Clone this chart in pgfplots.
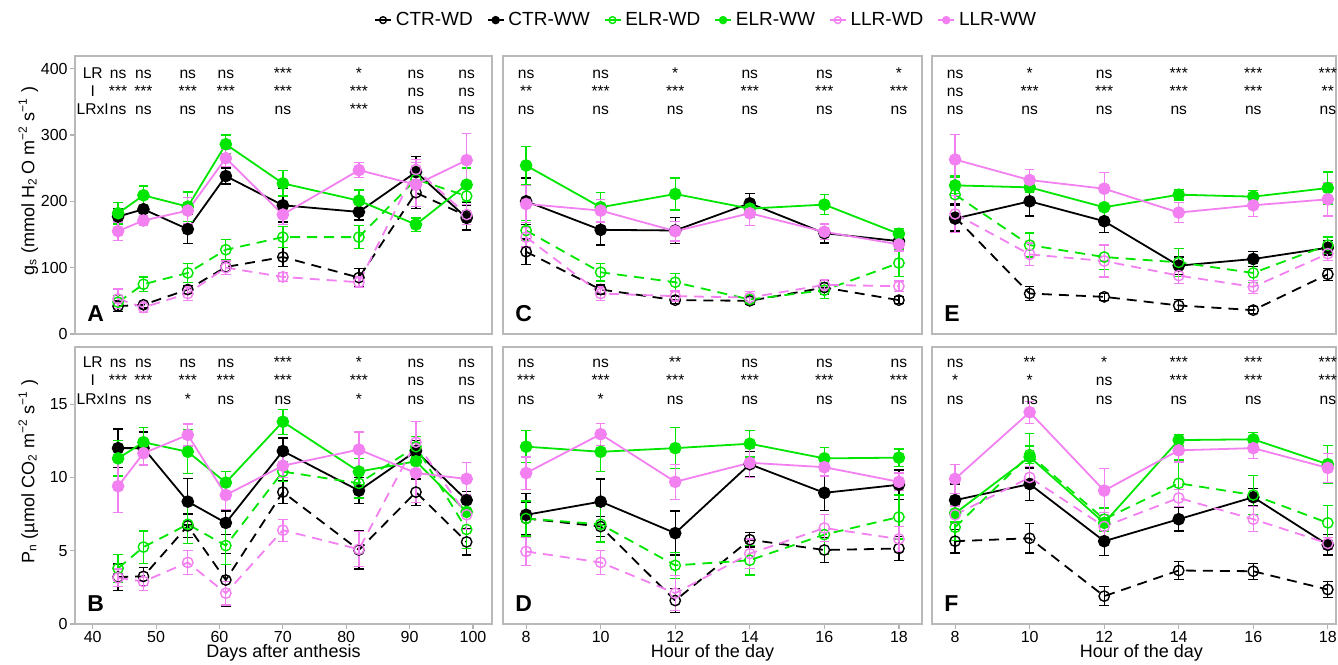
\documentclass[border=0pt]{standalone}
\usepackage{fontspec}
\setmainfont{Liberation Sans}
\usepackage{pgfplots}
\usepackage{pgfplotstable}
\pgfplotsset{compat=1.18}

\definecolor{cgreen}{HTML}{00E600}
\definecolor{cpink}{HTML}{F280F0}

% columns: x, CTR-WD, CTR-WW, ELR-WD, ELR-WW, LLR-WD, LLR-WW (value, error)
\pgfplotstableread{
x  cwd cwde cww cwwe ewd ewde eww ewwe lwd lwde lww lwwe
44 42  8    177 12   48  10   182 16   53  15   155 14
48 44  5    188 20   75  11   209 14   40  8    171 8
55 67  6    158 22   92  14   192 22   61  10   186 20
61 101 11   238 12   127 15   286 14   100 10   265 13
70 116 14   194 25   146 16   227 19   86  7    180 15
82 85  14   184 12   146 17   201 16   78  8    247 11
91 213 24   244 24   233 14   165 10   248 15   225 33
99 178 20   175 19   208 22   225 25   180 15   262 40
}\tA
\pgfplotstableread{
x  cwd  cwde cww  cwwe ewd  ewde eww  ewwe lwd  lwde lww   lwwe
44 3.2  0.9  12.0 1.3  3.8  0.95 11.3 1.2  3.15 0.6  9.4   1.8
48 3.25 0.6  12.0 1.1  5.25 1.1  12.4 1.0  2.9  0.6  11.65 0.8
55 6.7  0.8  8.35 1.6  6.8  1.3  11.75 1.5 4.2  0.8  12.9  0.75
61 3.0  1.8  6.9  0.8  5.35 1.3  9.65 0.75 2.1  0.8  8.8   1.0
70 9.0  0.8  11.8 0.9  10.4 0.7  13.8 0.85 6.4  0.75 10.8  0.8
82 5.05 1.3  9.1  0.9  9.6  1.0  10.4 0.9  5.1  1.2  11.9  1.2
91 9.0  0.9  11.8 0.7  12.1 0.7  11.1 1.0  12.4 1.4  10.3  2.0
99 5.6  0.9  8.45 0.6  6.45 1.3  7.65 1.2  7.45 1.0  9.9   1.1
}\tB
\pgfplotstableread{
x  cwd cwde cww cwwe ewd ewde eww ewwe lwd lwde lww lwwe
8  124 19   200 35   156 15   254 29   146 15   196 28
10 67  7    157 23   93  13   191 22   61  10   186 17
12 51  5    156 20   78  13   211 24   57  8    155 15
14 50  5    197 15   52  5    189 13   55  9    182 18
16 70  11   152 15   66  12   195 15   74  8    154 12
18 51  5    140 12   107 20   151 8    72  8    135 10
}\tC
\pgfplotstableread{
x  cwd  cwde cww  cwwe ewd  ewde eww   ewwe lwd  lwde lww   lwwe
8  7.2  1.1  7.45 1.45 7.2  1.2  12.1  1.1  4.95 0.95 10.3  1.1
10 6.65 0.7  8.35 1.55 6.8  1.2  11.75 1.35 4.2  0.8  12.95 0.75
12 1.6  0.8  6.2  1.5  4.0  0.9  12.0  1.4  2.1  1.2  9.7   1.2
14 5.75 0.5  10.9 0.85 4.35 1.0  12.3  0.9  4.8  1.0  11.0  1.0
16 5.05 0.85 8.95 1.2  6.1  1.35 11.3  0.75 6.55 0.9  10.7  0.6
18 5.15 0.8  9.5  1.0  7.3  1.5  11.35 0.6  5.8  0.85 9.7   0.6
}\tD
\pgfplotstableread{
x  cwd cwde cww cwwe ewd ewde eww ewwe lwd lwde lww lwwe
8  176 20   174 20   210 28   224 12   181 28   263 38
10 61  11   200 22   134 18   221 8    120 17   232 16
12 56  5    170 17   116 19   191 25   110 24   219 24
14 43  9    103 13   108 21   210 8    88  12   183 15
16 36  5    113 11   92  14   207 9    71  10   194 17
18 90  9    130 11   134 12   220 24   121 10   203 25
}\tE
\pgfplotstableread{
x  cwd  cwde cww  cwwe ewd   ewde eww   ewwe lwd  lwde lww   lwwe
8  5.65 0.8  8.45 1.1  6.6   0.9  7.55  0.6  7.45 0.6  9.9   1.0
10 5.85 1.0  9.55 1.1  11.55 0.6  11.4  1.6  10.0 0.75 14.45 0.75
12 1.9  0.65 5.65 1.0  7.15  0.8  6.9   1.0  6.65 0.8  9.1   1.5
14 3.65 0.6  7.15 0.8  9.6   1.6  12.55 0.4  8.6  0.6  11.85 0.8
16 3.6  0.55 8.65 0.6  8.8   1.35 12.6  0.45 7.15 0.85 12.0  0.7
18 2.35 0.55 5.4  0.7  6.9   1.2  10.9  1.3  5.5  0.4  10.65 1.0
}\tF

\pgfplotsset{
  panel/.style={
    scale only axis, clip=false, ymin=0, anchor=south west,
    axis line style={gray!55, line width=0.6pt},
    tick style={gray!60, line width=0.6pt},
    tick align=outside, major tick length=2.5pt,
    xtick pos=bottom, ytick pos=left,
    tick label style={font=\fontsize{8}{8}\selectfont, inner sep=1pt},
    /pgf/number format/assume math mode=true,
    label style={font=\fontsize{9}{9}\selectfont},
    xlabel style={at={(axis description cs:0.5,0)}, anchor=center, yshift=-14.5pt},
    ylabel style={at={(axis description cs:-0.112,0.55)}, anchor=center},
  },
  ebar/.style={error bars/.cd, y dir=both, y explicit,
    error bar style={solid, line width=0.65pt},
    error mark options={solid, rotate=90, mark size=2.4pt, line width=0.65pt}},
  wd/.style={line width=0.9pt, dash pattern=on 5pt off 3.5pt, mark=o, mark size=2.6pt,
    mark options={solid, line width=0.7pt}, ebar},
  ww/.style={line width=0.9pt, solid, mark=*, mark size=2.7pt, mark options={solid}, ebar},
}
\tikzset{
  sig/.style={anchor=base, font=\fontsize{7.8}{7.8}\selectfont, inner sep=0pt},
  letter/.style={anchor=base west, font=\fontsize{11.5}{11.5}\selectfont\bfseries, inner sep=0pt},
}

\newcommand{\six}[1]{%
  \addplot[black, wd] table[x=x, y=cwd, y error=cwde] {#1};
  \addplot[black, ww] table[x=x, y=cww, y error=cwwe] {#1};
  \addplot[cgreen, wd] table[x=x, y=ewd, y error=ewde] {#1};
  \addplot[cgreen, ww] table[x=x, y=eww, y error=ewwe] {#1};
  \addplot[cpink, wd] table[x=x, y=lwd, y error=lwde] {#1};
  \addplot[cpink, ww] table[x=x, y=lww, y error=lwwe] {#1};
}
\newcommand{\sig}[4]{%
  \node[sig] at (axis cs:#1,\ya) {#2};
  \node[sig] at (axis cs:#1,\yb) {#3};
  \node[sig] at (axis cs:#1,\yc) {#4};
}
\newcommand{\letter}[1]{\node[letter] at ([xshift=6pt,yshift=6pt]rel axis cs:0,0) {#1};}

\begin{document}
\begin{tikzpicture}
\useasboundingbox (0,0) rectangle (669pt,332pt);

% ---------- top row: stomatal conductance ----------
\def\ya{385.8}\def\yb{357.2}\def\yc{330.1}
\begin{axis}[panel, at={(37.5pt,165pt)}, width=208.5pt, height=139pt,
    xmin=37.2, xmax=103, ymax=419, xtick=\empty, ytick={0,100,200,300,400},
    ylabel={g\textsubscript{s} (mmol H\textsubscript{2}\,O m\textsuperscript{−2} s\textsuperscript{−1} )},
    legend columns=6,
    legend style={draw=none, fill=none, at={(1.516,1.129)}, anchor=center,
      font=\fontsize{9.5}{9.5}\selectfont, inner sep=0pt,
      /tikz/every even column/.append style={column sep=5pt}},
    legend image code/.code={\draw[mark repeat=2, mark phase=2, #1, solid, mark size=1.7pt, line width=0.8pt]
      plot coordinates {(0pt,0pt) (4pt,0pt) (8pt,0pt)};},
    legend entries={CTR-WD, CTR-WW, ELR-WD, ELR-WW, LLR-WD, LLR-WW}]
\six{\tA}
\sig{40}{LR}{I}{LRxI}
\sig{44}{ns}{***}{ns}
\sig{48}{ns}{***}{ns}
\sig{55}{ns}{***}{ns}
\sig{61}{ns}{***}{ns}
\sig{70}{***}{***}{ns}
\sig{82}{*}{***}{***}
\sig{91}{ns}{ns}{ns}
\sig{99}{ns}{ns}{ns}
\letter{A}
\end{axis}

\begin{axis}[panel, at={(251.5pt,165pt)}, width=209.5pt, height=139pt,
    xmin=7.38, xmax=18.62, ymax=419, xtick=\empty, ytick=\empty]
\six{\tC}
\sig{8}{ns}{**}{ns}
\sig{10}{ns}{***}{ns}
\sig{12}{*}{***}{ns}
\sig{14}{ns}{***}{ns}
\sig{16}{ns}{***}{ns}
\sig{18}{*}{***}{ns}
\letter{C}
\end{axis}

\begin{axis}[panel, at={(466pt,165pt)}, width=202pt, height=139pt,
    xmin=7.38, xmax=18.22, ymax=419, xtick=\empty, ytick=\empty]
\six{\tE}
\sig{8}{ns}{ns}{ns}
\sig{10}{*}{***}{ns}
\sig{12}{ns}{***}{ns}
\sig{14}{***}{***}{ns}
\sig{16}{***}{***}{ns}
\sig{18}{***}{**}{ns}
\letter{E}
\end{axis}

% ---------- bottom row: net photosynthesis ----------
\def\ya{17.53}\def\yb{16.30}\def\yc{15.01}
\begin{axis}[panel, at={(37.5pt,20pt)}, width=208.5pt, height=138.5pt,
    xmin=37.2, xmax=103, ymax=18.9, xtick={40,50,...,100}, ytick={0,5,10,15},
    xlabel={Days after anthesis},
    ylabel={P\textsubscript{n} (µmol CO\textsubscript{2} m\textsuperscript{−2} s\textsuperscript{−1} )}]
\six{\tB}
\sig{40}{LR}{I}{LRxI}
\sig{44}{ns}{***}{ns}
\sig{48}{ns}{***}{ns}
\sig{55}{ns}{***}{*}
\sig{61}{ns}{***}{ns}
\sig{70}{***}{***}{ns}
\sig{82}{*}{***}{*}
\sig{91}{ns}{ns}{ns}
\sig{99}{ns}{ns}{ns}
\letter{B}
\end{axis}

\begin{axis}[panel, at={(251.5pt,20pt)}, width=209.5pt, height=138.5pt,
    xmin=7.38, xmax=18.62, ymax=18.9, xtick={8,10,...,18}, ytick=\empty,
    xlabel={Hour of the day}]
\six{\tD}
\sig{8}{ns}{***}{ns}
\sig{10}{ns}{***}{*}
\sig{12}{**}{***}{ns}
\sig{14}{ns}{***}{ns}
\sig{16}{ns}{***}{ns}
\sig{18}{ns}{***}{ns}
\letter{D}
\end{axis}

\begin{axis}[panel, at={(466pt,20pt)}, width=202pt, height=138.5pt,
    xmin=7.38, xmax=18.22, ymax=18.9, xtick={8,10,...,18}, ytick=\empty,
    xlabel={Hour of the day},
    xlabel style={at={(axis description cs:0.5185,0)}}]
\six{\tF}
\sig{8}{ns}{*}{ns}
\sig{10}{**}{*}{ns}
\sig{12}{*}{ns}{ns}
\sig{14}{***}{***}{ns}
\sig{16}{***}{***}{ns}
\sig{18}{***}{***}{ns}
\letter{F}
\end{axis}
\end{tikzpicture}
\end{document}
